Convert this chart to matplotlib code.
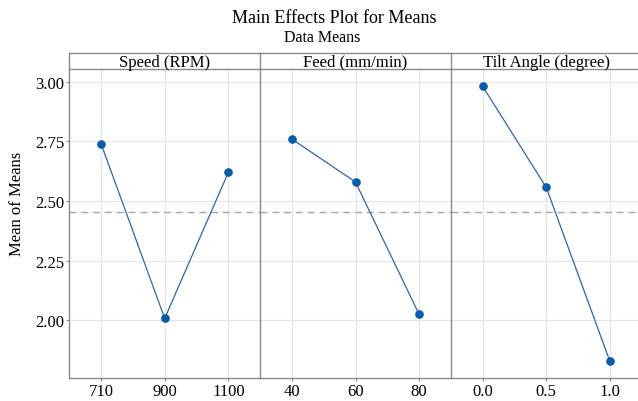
import matplotlib
matplotlib.use("Agg")
import matplotlib.pyplot as plt

plt.rcParams['font.family'] = ['Liberation Serif', 'DejaVu Serif']

factors = ["Speed (RPM)", "Feed (mm/min)", "Tilt Angle (degree)"]
levels = [["710", "900", "1100"], ["40", "60", "80"], ["0.0", "0.5", "1.0"]]
speed_means = [2.740, 2.008, 2.620]
feed_means = [2.760, 2.580, 2.025]
tilt_means = [2.981, 2.557, 1.828]
series = [speed_means, feed_means, tilt_means]
grand_mean = sum(speed_means) / 3
yticks = [2.00, 2.25, 2.50, 2.75, 3.00]
ytick_labels = ["2.00", "2.25", "2.50", "2.75", "3.00"]

W, H = 638, 402
fig = plt.figure(figsize=(W / 100, H / 100), dpi=100)

left_px = 69.3
panel_w = 190.8
bottom_px = 379.3
top_px = 69.7
strip_top = 54.3

edge = '#8a8a8a'
grid_c = '#e6e6e6'
blue = '#0b5bab'
line_blue = '#2a68ad'

for i in range(3):
    x0 = (left_px + i * panel_w) / W
    ax = fig.add_axes([x0, 1 - bottom_px / H, panel_w / W, (bottom_px - top_px) / H])
    pos = list(range(len(levels[i])))
    ax.plot(pos, series[i], color=line_blue, lw=0.9, zorder=3)
    ax.plot(pos, series[i], 'o', color=blue, ms=5.2, zorder=4)
    ax.axhline(grand_mean, color='#a6a6a6', lw=1.0, ls=(0, (5, 3.5)), zorder=2)
    ax.set_xlim(-0.5, 2.5)
    ax.set_ylim(1.757, 3.055)
    ax.set_xticks(pos)
    ax.set_xticklabels(levels[i], fontsize=12)
    ax.set_yticks(yticks)
    ax.grid(True, color=grid_c, lw=0.8, zorder=0)
    ax.set_axisbelow(True)
    for s in ['top', 'right']:
        ax.spines[s].set_visible(False)
    ax.spines['left'].set_color(edge)
    ax.spines['bottom'].set_color(edge)
    ax.spines['left'].set_linewidth(1.0)
    ax.spines['bottom'].set_linewidth(1.0)
    ax.tick_params(axis='x', length=2, width=0.8, color=edge, pad=1.5)
    if i == 0:
        ax.set_yticklabels(ytick_labels, fontsize=12)
        ax.tick_params(axis='y', length=2.5, width=0.8, color=edge, pad=1)
    else:
        ax.tick_params(axis='y', length=0, labelleft=False)
    # strip
    sax = fig.add_axes([x0, 1 - top_px / H, panel_w / W, (top_px - strip_top) / H])
    sax.set_xticks([])
    sax.set_yticks([])
    sax.spines['right'].set_visible(False)
    for s in ['top', 'left', 'bottom']:
        sax.spines[s].set_color(edge)
        sax.spines[s].set_linewidth(1.0)
    sax.text(0.5, 0.2, factors[i], ha='center', va='baseline', fontsize=12,
             transform=sax.transAxes)

fig.text(334 / W, 1 - 22.7 / H, "Main Effects Plot for Means", ha='center',
         va='baseline', fontsize=13)
fig.text(322 / W, 1 - 42 / H, "Data Means", ha='center', va='baseline', fontsize=11.5)
fig.text(17.5 / W, 1 - 203.5 / H, "Mean of Means", ha='center', va='center',
         rotation=90, fontsize=12)

fig.savefig("out.png", dpi=100)
